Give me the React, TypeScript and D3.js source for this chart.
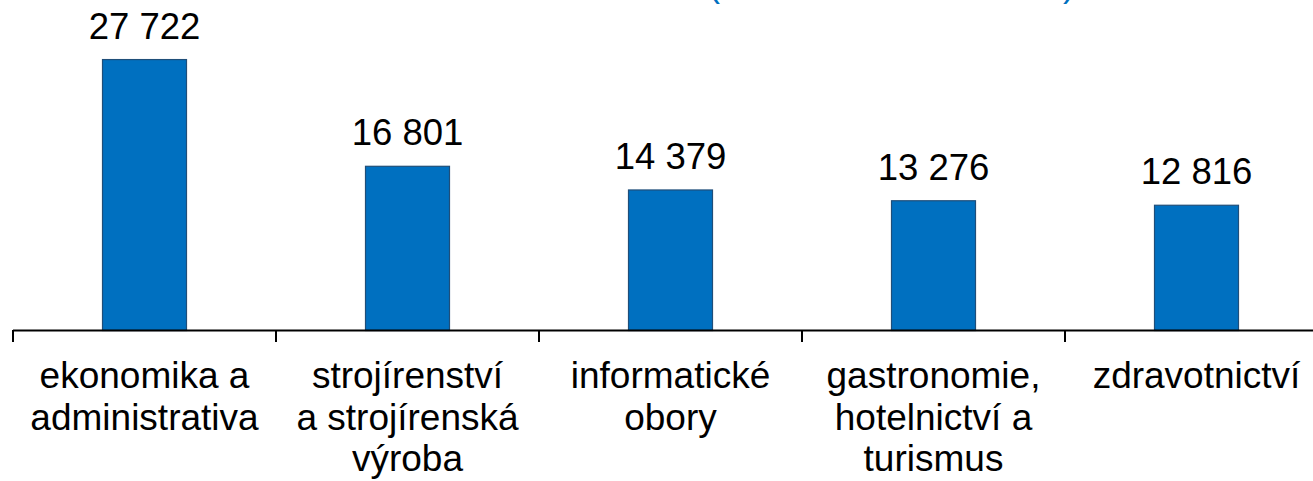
import React from "react";
import * as d3 from "d3";

const categories: string[][] = [
  ["ekonomika a", "administrativa"],
  ["strojírenství", "a strojírenská", "výroba"],
  ["informatické", "obory"],
  ["gastronomie,", "hotelnictví a", "turismus"],
  ["zdravotnictví"],
];
const values: number[] = [27722, 16801, 14379, 13276, 12816];
const valueLabels: string[] = ["27 722", "16 801", "14 379", "13 276", "12 816"];

const W = 1313;
const H = 481;
const FONT = "'Liberation Sans', Arial, Helvetica, sans-serif";

export default function App() {
  const idx = values.map((_, i) => String(i));
  const x = d3.scaleBand<string>().domain(idx).range([13, 1328]).padding(0);
  const y = d3.scaleLinear().domain([0, 30000]).range([330.5, 37.3]);
  const barW = 84;
  return (
    <svg width={W} height={H} style={{ position: "absolute", left: 0, top: 0, background: "#fff" }}>
      <text y={-4.5} fill="#0070C0" fontFamily={FONT} fontSize={36}>
        <tspan x={708}>(</tspan>
        <tspan x={1063}>)</tspan>
      </text>
      {values.map((v, i) => {
        const cx = (x(String(i)) as number) + x.bandwidth() / 2;
        return (
          <g key={i}>
            <rect
              x={cx - barW / 2}
              y={y(v)}
              width={barW}
              height={y(0) - y(v)}
              fill="#0070C0"
              stroke="#1F4E79"
              strokeWidth={1.2}
            />
            <text x={cx} y={y(v) - 21} textAnchor="middle" fontFamily={FONT} fontSize={36.5} fill="#000">
              {valueLabels[i]}
            </text>
            {categories[i].map((line, j) => (
              <text key={j} x={cx} y={388 + j * 41.5} textAnchor="middle" fontFamily={FONT} fontSize={37} fill="#000">
                {line}
              </text>
            ))}
          </g>
        );
      })}
      <line x1={13} x2={1328} y1={330.5} y2={330.5} stroke="#000" strokeWidth={2} />
      {d3.range(values.length + 1).map((i) => {
        const tx = 13 + i * x.bandwidth();
        return <line key={i} x1={tx} x2={tx} y1={330} y2={342} stroke="#000" strokeWidth={2} />;
      })}
    </svg>
  );
}
